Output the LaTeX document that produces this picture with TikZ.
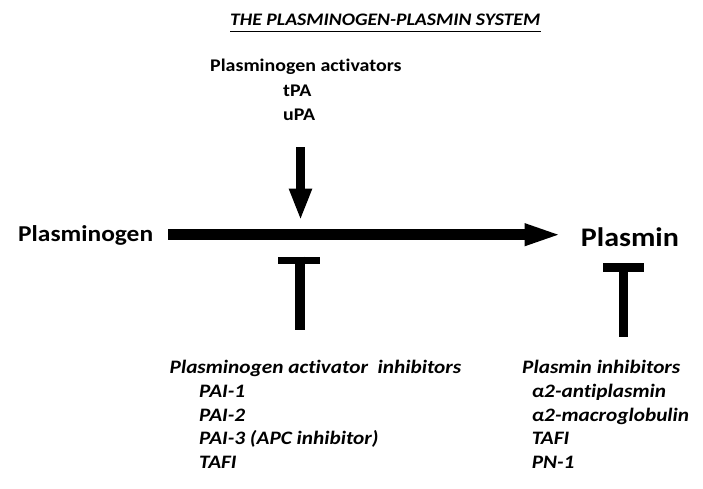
\documentclass[tikz,border=0pt]{standalone}
\usepackage{fontspec}
\setmainfont[FakeStretch=1.12,Ligatures={NoCommon,NoContextual},Contextuals=NoAlternate]{Carlito}
\usetikzlibrary{arrows.meta}
\begin{document}
\begin{tikzpicture}[x=1pt,y=-1pt,
  txt/.style={inner sep=0pt, anchor=base west, font=\bfseries\fontsize{17.8}{20}\selectfont},
  itxt/.style={inner sep=0pt, anchor=base west, font=\bfseries\itshape\fontsize{19}{21}\selectfont},
  bigarrow/.style={line width=10.6pt, -{Triangle[length=38pt,width=19.5pt]}},
  downarrow/.style={line width=9.8pt, -{Triangle[length=32pt,width=21pt]}},
  inhib/.style={line width=9.6pt}
]
\useasboundingbox (0,0) rectangle (703,488);
% title
\node[inner sep=0pt, anchor=base west, font=\bfseries\itshape\fontsize{17.6}{20}\selectfont] (title) at (230,25.7) {THE PLASMINOGEN-PLASMIN SYSTEM};
\draw[line width=1.4pt] ([yshift=-5.8pt]title.base west) -- ([yshift=-5.8pt]title.base east);
% activators
\node[txt] (pa) at (210,71) {Plasminogen activators};
\node[txt] (tpa) at (283,96) {tPA};
\node[txt] (upa) at (283,120) {uPA};
% main reaction
\node[inner sep=0pt, anchor=base west, font=\bfseries\fontsize{22.7}{24}\selectfont] (plg) at (18,241.7) {Plasminogen};
\node[inner sep=0pt, anchor=base west, font=\bfseries\fontsize{26.8}{28}\selectfont] (pl) at (580.7,246.7) {Plasmin};
\coordinate (hs) at (168,234.7);
\coordinate (he) at (562.7,234.7);
\draw[bigarrow] (hs) -- (he);
\coordinate (vs) at (300.5,147);
\coordinate (ve) at (300.5,220.5);
\draw[downarrow] (vs) -- (ve);
% inhibition T bars
\coordinate (t1top) at (299.7,256.7);
\coordinate (t1bot) at (299.7,330);
\draw[inhib] (t1top) -- (t1bot);
\draw[line width=7.4pt] (278.3,260.4) -- (320,260.4);
\coordinate (t2top) at (623.3,263);
\coordinate (t2bot) at (623.3,337);
\draw[inhib] (t2top) -- (t2bot);
\draw[line width=8.7pt] (603,267.3) -- (643.6,267.3);
% left inhibitors
\node[itxt] (pai) at (169.5,373.8) {Plasminogen activator\ \ inhibitors};
\node[itxt] (pai1) at (199,397.5) {PAI-1};
\node[itxt] (pai2) at (199,421.2) {PAI-2};
\node[itxt] (pai3) at (199,444.9) {PAI-3 (APC inhibitor)};
\node[itxt] (tafi1) at (199,468.6) {TAFI};
% right inhibitors
\node[itxt] (pli) at (522,373.8) {Plasmin inhibitors};
\node[itxt] (a2ap) at (531.6,397.5) {α2-antiplasmin};
\node[itxt] (a2mg) at (531.6,421.2) {α2-macroglobulin};
\node[itxt] (tafi2) at (531.6,444.9) {TAFI};
\node[itxt] (pn1) at (531.6,468.6) {PN-1};
\end{tikzpicture}
\end{document}
